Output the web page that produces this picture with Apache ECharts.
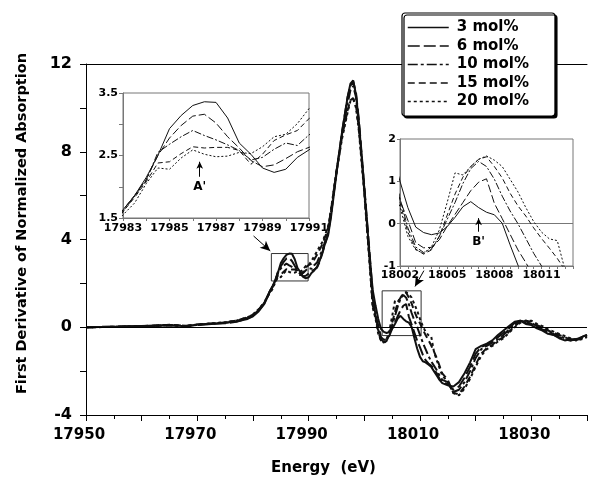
<!DOCTYPE html>
<html><head><meta charset="utf-8">
<script src="https://cdn.jsdelivr.net/npm/echarts@6/dist/echarts.min.js"></script>
<style>html,body{margin:0;padding:0;background:#fff}#c{width:590px;height:481px}</style>
</head><body><div id="c"></div>
<script>
// ---- data ----
const energy = [17950,17955,17960,17965,17968,17970,17972,17975,17977,17979,17980,17981,17982,17982.5,
17983,17983.5,17984,17984.5,17985,17985.5,17986,17986.5,17987,17987.5,17988,17988.5,17989,17989.5,17990,17990.5,17991,
17991.5,17992,17992.5,17993,17993.5,17994,17995,17996,17997,17997.5,17998,17998.5,17999,18000,18000.5,18001,18001.5,
18002,18002.5,18003,18003.5,18004,18004.5,18005,18005.5,18006,18006.5,18007,18007.5,18008,18008.5,18009,18009.5,18010,18010.5,18011,18011.5,18012,18012.5,18013,18013.5,18014,
18015,18016,18017,18018,18019,18020,18021,18022,18023,18024,18025,18026,18027,18028,18029,18030,18031,18032,18033,18034,18035,18036,18037,18038,18039,18040];

const mol3 = [0.00,0.02,0.06,0.10,0.04,0.12,0.14,0.20,0.26,0.38,0.50,0.72,1.05,1.32,
1.63,1.86,2.15,2.50,2.93,3.14,3.30,3.36,3.35,3.10,2.70,2.52,2.30,2.23,2.28,2.47,2.59,
2.75,3.05,3.45,3.85,4.20,5.00,7.00,8.90,10.50,11.10,11.25,10.60,9.40,6.30,4.70,3.10,1.70,
1.00,0.38,-0.08,-0.21,-0.26,-0.22,-0.07,0.15,0.40,0.52,0.38,0.27,0.21,0.01,-0.50,-0.98,-1.35,-1.55,-1.60,-1.70,-1.80,-2.00,-2.20,-2.40,-2.55,
-2.65,-2.70,-2.50,-2.10,-1.60,-1.00,-0.85,-0.75,-0.60,-0.35,-0.15,0.05,0.25,0.30,0.15,0.10,-0.05,-0.15,-0.30,-0.35,-0.50,-0.60,-0.55,-0.55,-0.45,-0.35];

const mol6 = [0.00,0.03,0.05,0.08,0.06,0.10,0.15,0.18,0.25,0.40,0.52,0.75,1.08,1.33,
1.63,1.86,2.12,2.50,2.78,2.98,3.13,3.16,3.02,2.80,2.62,2.42,2.32,2.35,2.45,2.56,2.63,
2.72,3.00,3.40,3.85,4.30,5.10,7.10,8.90,10.50,11.00,11.20,10.70,9.50,6.40,4.80,3.20,1.50,
0.55,0.08,-0.45,-0.57,-0.56,-0.38,-0.06,0.22,0.50,0.78,0.98,1.06,0.48,0.12,-0.25,-0.62,-0.92,-1.25,-1.50,-1.65,-1.75,-1.90,-2.10,-2.35,-2.50,
-2.60,-2.85,-2.70,-2.30,-1.80,-1.20,-0.90,-0.80,-0.65,-0.45,-0.25,-0.05,0.20,0.30,0.20,0.15,0.00,-0.10,-0.25,-0.35,-0.45,-0.55,-0.60,-0.55,-0.45,-0.35];

const mol10 = [0.00,0.01,0.04,0.09,0.05,0.11,0.16,0.21,0.28,0.42,0.55,0.78,1.10,1.35,
1.60,1.85,2.10,2.55,2.68,2.80,2.90,2.82,2.75,2.67,2.58,2.43,2.47,2.60,2.70,2.66,2.83,
2.95,3.25,3.55,3.95,4.40,5.20,7.10,8.80,10.20,10.80,11.00,10.50,9.30,6.30,4.60,3.00,1.30,
0.60,-0.10,-0.55,-0.68,-0.60,-0.30,0.10,0.50,0.95,1.30,1.47,1.35,1.05,0.65,0.30,0.00,-0.35,-0.70,-1.00,-1.30,-1.55,-1.75,-1.95,-2.20,-2.40,
-2.50,-2.95,-2.85,-2.50,-2.00,-1.40,-1.00,-0.85,-0.70,-0.55,-0.35,-0.10,0.15,0.30,0.25,0.20,0.05,-0.05,-0.20,-0.30,-0.40,-0.50,-0.60,-0.55,-0.50,-0.40];

const mol15 = [0.00,0.02,0.05,0.11,0.07,0.12,0.17,0.22,0.30,0.45,0.58,0.80,1.12,1.36,
1.60,1.83,2.08,2.38,2.40,2.53,2.64,2.62,2.63,2.63,2.58,2.36,2.52,2.74,2.83,2.90,3.09,
3.30,3.55,3.80,4.15,4.55,5.30,7.10,8.70,9.90,10.35,10.45,10.10,9.10,6.20,4.50,2.80,1.00,
0.50,-0.20,-0.60,-0.72,-0.62,-0.30,0.20,0.70,1.10,1.35,1.52,1.58,1.35,1.08,0.72,0.42,0.18,-0.10,-0.35,-0.58,-0.82,-1.10,-1.40,-1.75,-2.10,
-2.40,-3.00,-3.05,-2.70,-2.25,-1.70,-1.20,-0.95,-0.80,-0.60,-0.45,-0.20,0.05,0.25,0.30,0.25,0.10,0.00,-0.15,-0.25,-0.35,-0.45,-0.55,-0.60,-0.50,-0.45];

const mol20 = [0.00,0.02,0.04,0.10,0.06,0.13,0.16,0.23,0.30,0.45,0.58,0.82,1.12,1.35,
1.55,1.74,2.05,2.30,2.28,2.46,2.59,2.52,2.48,2.49,2.55,2.53,2.64,2.80,2.84,3.01,3.25,
3.45,3.70,3.90,4.25,4.60,5.35,7.10,8.60,9.80,10.30,10.40,10.00,9.00,6.10,4.40,2.70,0.90,
0.40,-0.30,-0.62,-0.70,-0.55,-0.15,0.50,1.20,1.15,1.35,1.52,1.60,1.50,1.35,1.05,0.75,0.38,0.05,-0.20,-0.36,-0.40,-1.10,-1.50,-1.85,-2.20,
-2.50,-3.00,-3.10,-2.80,-2.35,-1.80,-1.30,-1.00,-0.85,-0.65,-0.50,-0.25,0.00,0.20,0.30,0.30,0.15,0.05,-0.10,-0.20,-0.30,-0.40,-0.50,-0.60,-0.55,-0.45];

const seriesNames = ['3 mol%','6 mol%','10 mol%','15 mol%','20 mol%'];
const seriesValues = [mol3, mol6, mol10, mol15, mol20];

const mainXLabels = [17950,17970,17990,18010,18030];
const inset1XLabels = [17983,17985,17987,17989,17991];
const inset1YLabels = ['1.5','2.5','3.5'];
const inset2XLabels = [18002,18005,18008,18011];

// annotation anchors in data units
const boxA = [[17983.3, 3.36],[17989.9, 2.11]];
const boxB = [[18003.2, 1.66],[18010.2, -0.38]];
const arrowA = [[17980.1, 4.16],[17983.1, 3.48]];
const arrowB = [[18010.7, 2.58],[18009.1, 1.86]];
const arrowAp = [[17986.3, 2.16],[17986.3, 2.40]];
const arrowBp = [[18007.0, -0.19],[18007.0, 0.13]];

// ---- styles ----
const FONT = 'DejaVu Sans';
const dashMain = ['solid',[12,4],[10,3,3,3],[7,4],[3,3]];
const dashInset = ['solid',[8,3],[7,2,2,2],[5,3],[2,2]];
const frameGray = '#777';

const chart = echarts.init(document.getElementById('c'), null, {renderer:'canvas'});

function pairs(vals){ return energy.map((e,i)=>[e, vals[i]]); }

const series = [];
seriesNames.forEach((name,k)=>{
  series.push({
    type:'line', name:name, xAxisIndex:0, yAxisIndex:0, data:pairs(seriesValues[k]),
    symbol:'none', z:3, clip:true, color:'#111',
    itemStyle:{color:'#111'},
    lineStyle:{color:'#111', width:2, type:dashMain[k]}
  });
});
// marks on main chart
series[0].markLine = {
  silent:true, symbol:['none','none'], label:{show:false}, animation:false,
  lineStyle:{color:'#000', width:1, type:'solid'},
  data:[
    {yAxis:0},
    [{coord:arrowA[0]},{coord:arrowA[1], symbol:'arrow', symbolSize:[7,10]}],
    [{coord:arrowB[0]},{coord:arrowB[1], symbol:'arrow', symbolSize:[7,10]}]
  ]
};
series[0].markArea = {
  silent:true, animation:false,
  itemStyle:{color:'rgba(0,0,0,0)', borderColor:'#333', borderWidth:1},
  data:[[{coord:boxA[0]},{coord:boxA[1]}],[{coord:boxB[0]},{coord:boxB[1]}]]
};
// inset series
seriesNames.forEach((name,k)=>{
  const s1 = {type:'line', name:name+' (A)', xAxisIndex:2, yAxisIndex:1, data:pairs(seriesValues[k]),
    symbol:'none', z:5, clip:true, color:'#111', lineStyle:{color:'#111', width:1, type:dashInset[k]}};
  const s2 = {type:'line', name:name+' (B)', xAxisIndex:3, yAxisIndex:2, data:pairs(seriesValues[k]),
    symbol:'none', z:5, clip:true, color:'#111', lineStyle:{color:'#111', width:1, type:dashInset[k]}};
  if(k===0){
    s1.markLine = {silent:true, animation:false, symbol:['none','arrow'], symbolSize:[5,7],
      lineStyle:{color:'#000', width:1, type:'solid'},
      label:{show:true, position:'start', formatter:"A'", fontFamily:FONT, fontWeight:'bold', fontSize:12, color:'#000', distance:4},
      data:[[{coord:arrowAp[0]},{coord:arrowAp[1]}]]};
    s2.markLine = {silent:true, animation:false, symbol:['none','none'],
      lineStyle:{color:'#000', width:1, type:'solid'},
      label:{show:false},
      data:[
        {yAxis:0, lineStyle:{color:frameGray, width:1}},
        [{coord:arrowBp[0]},{coord:arrowBp[1], symbol:'arrow', symbolSize:[5,7]}]
      ]};
    s2.markPoint = {silent:true, animation:false, symbol:'rect', symbolSize:1,
      itemStyle:{color:'rgba(0,0,0,0)'},
      label:{show:true, formatter:"B'", position:'bottom', distance:4, fontFamily:FONT, fontWeight:'bold', fontSize:12, color:'#000'},
      data:[{coord:arrowBp[0]}]};
  }
  series.push(s1, s2);
});

const labStyle = (size)=>({fontFamily:FONT, fontWeight:'bold', fontSize:size, color:'#000'});

const option = {
  animation:false,
  backgroundColor:'#fff',
  color:['#111'],
  textStyle:{fontFamily:FONT},
  grid:[
    {left:86, top:64, right:0, bottom:63},
    {left:123, top:93, width:186, height:125, show:true, backgroundColor:'#fff', borderColor:frameGray, borderWidth:1},
    {left:400, top:139, width:173, height:127, show:true, backgroundColor:'#fff', borderColor:frameGray, borderWidth:1}
  ],
  legend:{
    data:seriesNames, orient:'vertical', left:402, top:13,
    itemWidth:41, itemHeight:14, itemGap:3.5, padding:[7,26,7,5],
    backgroundColor:'#fff', borderColor:'#000', borderWidth:1.2, borderRadius:3,
    shadowColor:'#000', shadowOffsetX:2, shadowOffsetY:2, shadowBlur:0.01,
    selectedMode:false,
    itemStyle:{opacity:0},
    lineStyle:{color:'#111', width:1.5},
    textStyle:Object.assign(labStyle(15), {padding:[0,0,0,3]})
  },
  xAxis:[
    {gridIndex:0, type:'value', min:17950, max:18040, interval:10, position:'bottom',
     name:'Energy  (eV)', nameLocation:'middle', nameGap:46,
     nameTextStyle:Object.assign(labStyle(15), {padding:[0,26,0,0]}),
     axisLine:{show:true, onZero:false, lineStyle:{color:'#000', width:1}},
     axisTick:{show:true, inside:false, length:6, lineStyle:{color:'#000'}},
     minorTick:{show:true, splitNumber:2, length:4, lineStyle:{color:'#000'}},
     axisLabel:Object.assign(labStyle(15), {margin:13, padding:[0,14,0,0],
       formatter:v=>mainXLabels.includes(v)?String(v):''}),
     splitLine:{show:false}},
    {gridIndex:0, type:'value', min:17950, max:18040, position:'top',
     axisLine:{show:true, onZero:false, lineStyle:{color:'#000', width:1}},
     axisTick:{show:false}, axisLabel:{show:false}, splitLine:{show:false}},
    {gridIndex:1, type:'value', min:17983, max:17991, interval:1,
     axisLine:{show:true, onZero:false, lineStyle:{color:frameGray}},
     axisTick:{show:true, length:3, lineStyle:{color:frameGray}},
     axisLabel:Object.assign(labStyle(11), {margin:5, formatter:v=>inset1XLabels.includes(v)?String(v):''}),
     splitLine:{show:false}},
    {gridIndex:2, type:'value', min:18002, max:18013, interval:0.5,
     axisLine:{show:true, onZero:false, lineStyle:{color:frameGray}},
     axisTick:{show:true, length:3, lineStyle:{color:frameGray}},
     axisLabel:Object.assign(labStyle(11), {margin:4, formatter:v=>inset2XLabels.includes(v)?String(v):''}),
     splitLine:{show:false}}
  ],
  yAxis:[
    {gridIndex:0, type:'value', min:-4, max:12, interval:4,
     name:'First Derivative of Normalized Absorption', nameLocation:'middle', nameGap:56, nameRotate:90,
     nameTextStyle:Object.assign(labStyle(14.5), {padding:[0,0,0,32]}),
     axisLine:{show:true, onZero:false, lineStyle:{color:'#000', width:1}},
     axisTick:{show:true, length:6, lineStyle:{color:'#000'}},
     minorTick:{show:true, splitNumber:2, length:6, lineStyle:{color:'#000'}},
     axisLabel:Object.assign(labStyle(16), {margin:14}),
     splitLine:{show:false}},
    {gridIndex:1, type:'value', min:1.5, max:3.5, interval:0.5,
     axisLine:{show:true, onZero:false, lineStyle:{color:frameGray}},
     axisTick:{show:true, length:4, lineStyle:{color:frameGray}},
     axisLabel:Object.assign(labStyle(11), {margin:5, formatter:v=>inset1YLabels.includes(v.toFixed(1))?v.toFixed(1):''}),
     splitLine:{show:false}},
    {gridIndex:2, type:'value', min:-1, max:2, interval:1,
     axisLine:{show:true, onZero:false, lineStyle:{color:frameGray}},
     axisTick:{show:true, length:3, lineStyle:{color:frameGray}},
     axisLabel:Object.assign(labStyle(11), {margin:4}),
     splitLine:{show:false}}
  ],
  series:series
};
chart.setOption(option);
</script>
</body></html>
